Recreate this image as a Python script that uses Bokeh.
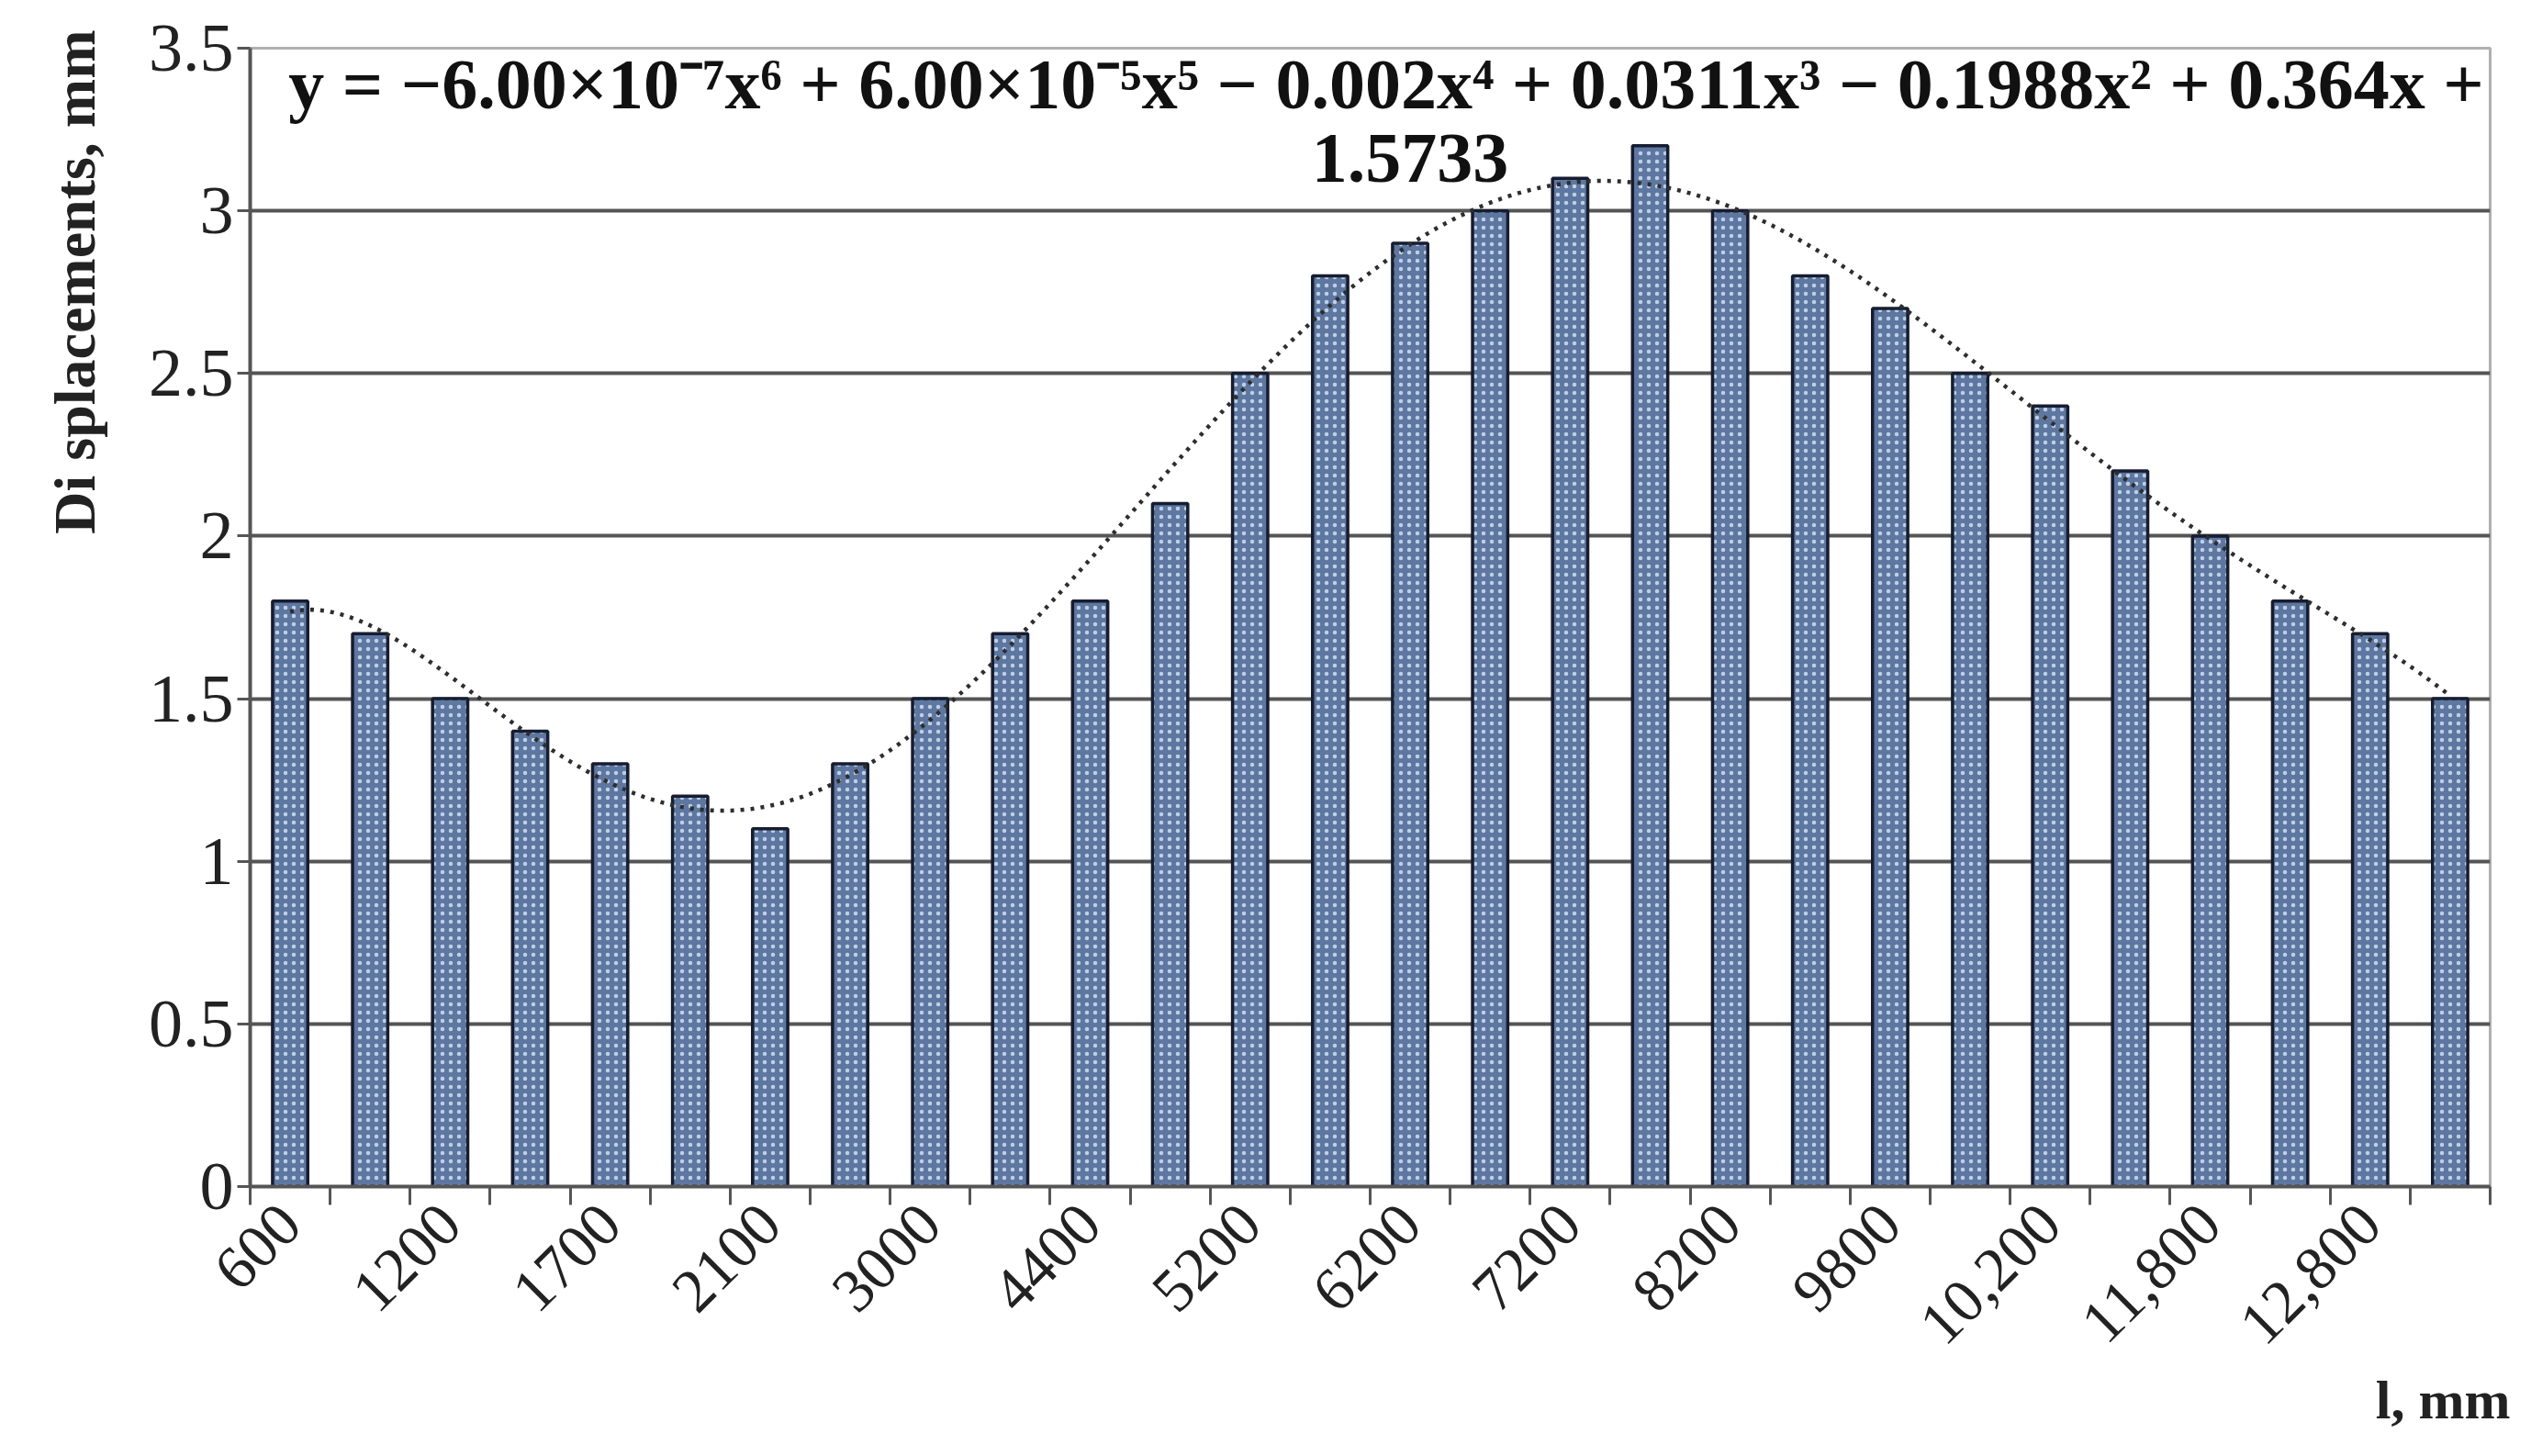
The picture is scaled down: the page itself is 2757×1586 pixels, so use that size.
import numpy as np
from math import pi
from bokeh.plotting import figure
from bokeh.models import ColumnDataSource, FixedTicker, Label, Range1d, Title
from bokeh.embed import file_html
from bokeh.resources import INLINE

# ---- data ----
positions = list(range(1, 29))
displacements = [1.8, 1.7, 1.5, 1.4, 1.3, 1.2, 1.1, 1.3, 1.5, 1.7, 1.8, 2.1, 2.5, 2.8,
                 2.9, 3.0, 3.1, 3.2, 3.0, 2.8, 2.7, 2.5, 2.4, 2.2, 2.0, 1.8, 1.7, 1.5]
tick_positions = [1, 3, 5, 7, 9, 11, 13, 15, 17, 19, 21, 23, 25, 27]
tick_labels = ["600", "1200", "1700", "2100", "3000", "4400", "5200", "6200",
               "7200", "8200", "9800", "10,200", "11,800", "12,800"]
y_ticks = [0, 0.5, 1, 1.5, 2, 2.5, 3, 3.5]
y_tick_labels = ["0", "0.5", "1", "1.5", "2", "2.5", "3", "3.5"]
trend_order = 6
equation_line1 = "y = \u22126.00\u00d710\u207b\u2077x\u2076 + 6.00\u00d710\u207b\u2075x\u2075 \u2212 0.002x\u2074 + 0.0311x\u00b3 \u2212 0.1988x\u00b2 + 0.364x +"
equation_line2 = "1.5733"
y_label = "Di splacements, mm"
x_label = "l, mm"

FONT = "Liberation Serif"
W, H = 2741, 1570
frame_left, frame_top, frame_right, frame_bottom = 272, 52, 2712, 1292

p = figure(width=W, height=H, output_backend="svg", toolbar_location=None,
           x_range=Range1d(0.5, 28.5), y_range=Range1d(0, 3.5),
           min_border_left=frame_left, min_border_top=frame_top,
           min_border_right=W - frame_right, min_border_bottom=H - frame_bottom)
p.background_fill_color = "white"
p.border_fill_color = "white"
p.outline_line_color = "#b0b0b0"
p.outline_line_width = 3

src = ColumnDataSource(dict(x=positions, top=displacements))
p.vbar(x="x", top="top", bottom=0, width=0.44, source=src,
       fill_color="#5d77a0", line_color="#161d30", line_width=3.5,
       hatch_pattern="dot", hatch_color="#c0cfe6", hatch_scale=9, hatch_weight=2.5)

# polynomial trendline fitted to the bars (as the spreadsheet did)
coef = np.polyfit(positions, displacements, trend_order)
xs = np.linspace(1, 28, 300)
p.line(xs, np.polyval(coef, xs), line_color="#2e2e2e", line_width=4.5, line_dash="4 7")

# grid
p.xgrid.grid_line_color = None
p.ygrid.grid_line_color = "#555555"
p.ygrid.grid_line_width = 4
p.ygrid.ticker = FixedTicker(ticks=y_ticks)

# y axis
p.yaxis.ticker = FixedTicker(ticks=y_ticks)
p.yaxis.major_label_overrides = {t: s for t, s in zip(y_ticks, y_tick_labels)}
p.yaxis.minor_tick_line_color = None
p.yaxis.major_tick_in = 0
p.yaxis.major_tick_out = 14
p.yaxis.major_tick_line_width = 3
p.yaxis.major_tick_line_color = "#555555"
p.yaxis.axis_line_color = "#555555"
p.yaxis.axis_line_width = 4
p.yaxis.major_label_text_font = FONT
p.yaxis.major_label_text_font_size = "74px"
p.yaxis.major_label_text_color = "#222222"
p.yaxis.major_label_standoff = 4

# x axis
p.xaxis.ticker = FixedTicker(ticks=tick_positions,
                             minor_ticks=[i + 0.5 for i in range(0, 29)])
p.xaxis.major_label_overrides = {t: s for t, s in zip(tick_positions, tick_labels)}
p.xaxis.major_tick_line_color = None
p.xaxis.minor_tick_in = 0
p.xaxis.minor_tick_out = 20
p.xaxis.minor_tick_line_width = 3
p.xaxis.minor_tick_line_color = "#555555"
p.xaxis.axis_line_color = "#555555"
p.xaxis.axis_line_width = 4
p.xaxis.major_label_orientation = pi / 4
p.xaxis.major_label_text_font = FONT
p.xaxis.major_label_text_font_size = "67px"
p.xaxis.major_label_text_color = "#222222"
p.xaxis.major_label_standoff = 10

# axis titles
p.add_layout(Title(text=y_label, align="right", offset=-20, standoff=84,
                   text_font=FONT, text_font_style="bold", text_font_size="64px",
                   text_color="#222222"), "left")
p.add_layout(Title(text=x_label, align="right", offset=-22, standoff=6,
                   text_font=FONT, text_font_style="bold", text_font_size="60px",
                   text_color="#222222"), "below")

# trendline equation
p.add_layout(Label(x=14.7, y=3.39, text=equation_line1, text_font=FONT,
                   text_font_style="bold", text_font_size="78px", text_align="center",
                   text_baseline="middle", text_color="#111111"))
p.add_layout(Label(x=15.0, y=3.16, text=equation_line2, text_font=FONT,
                   text_font_style="bold", text_font_size="78px", text_align="center",
                   text_baseline="middle", text_color="#111111"))

open("out.html", "w").write(file_html(p, INLINE))
